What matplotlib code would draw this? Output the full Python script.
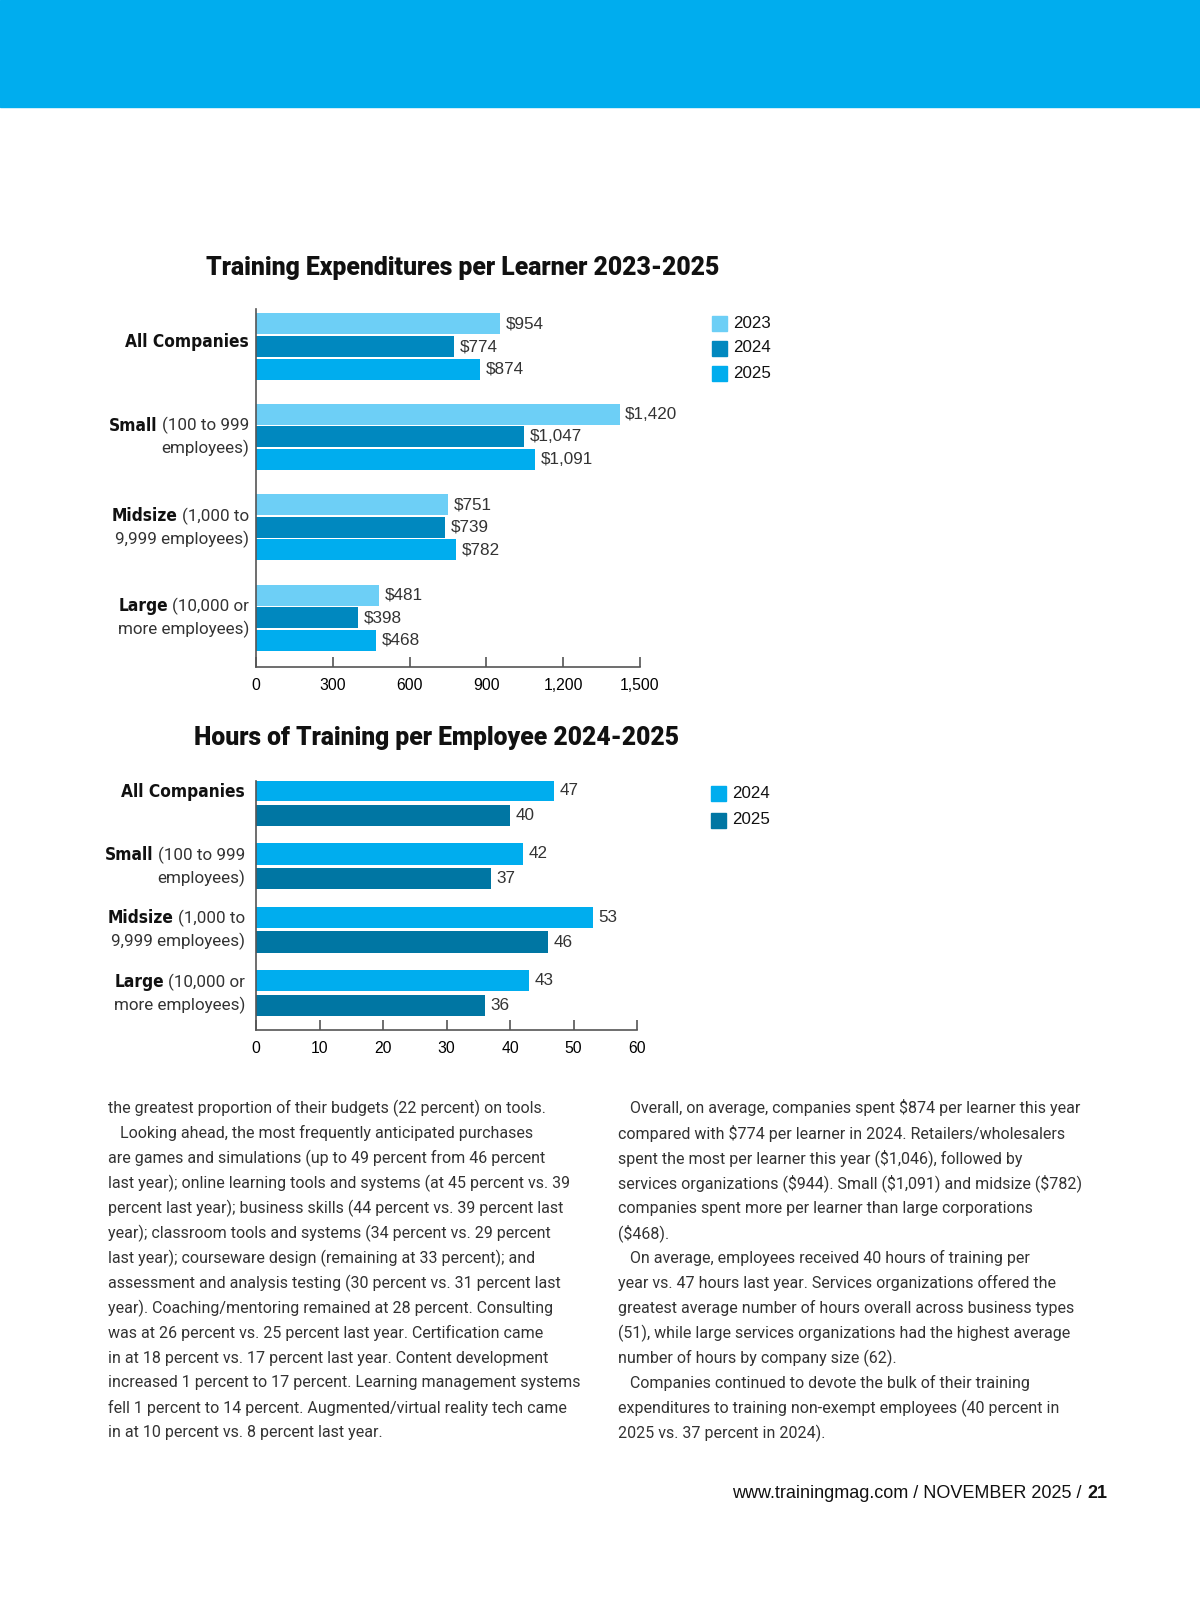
import matplotlib
matplotlib.use('Agg')
import matplotlib.pyplot as plt
from matplotlib import font_manager
from matplotlib.patches import Rectangle
from matplotlib.offsetbox import TextArea, HPacker, VPacker, AnnotationBbox

# --- data -------------------------------------------------------------
groups = ['All Companies', 'Small', 'Midsize', 'Large']
group_rest = ['', '(100 to 999', '(1,000 to', '(10,000 or']
group_line2 = ['', 'employees)', '9,999 employees)', 'more employees)']

exp_years = ['2023', '2024', '2025']
exp_2023 = [954, 1420, 751, 481]
exp_2024 = [774, 1047, 739, 398]
exp_2025 = [874, 1091, 782, 468]
exp_ticks = [0, 300, 600, 900, 1200, 1500]

hrs_years = ['2024', '2025']
hrs_2024 = [47, 42, 53, 43]
hrs_2025 = [40, 37, 46, 36]
hrs_ticks = [0, 10, 20, 30, 40, 50, 60]

left_col = [
    "the greatest proportion of their budgets (22 percent) on tools.",
    "   Looking ahead, the most frequently anticipated purchases",
    "are games and simulations (up to 49 percent from 46 percent",
    "last year); online learning tools and systems (at 45 percent vs. 39",
    "percent last year); business skills (44 percent vs. 39 percent last",
    "year); classroom tools and systems (34 percent vs. 29 percent",
    "last year); courseware design (remaining at 33 percent); and",
    "assessment and analysis testing (30 percent vs. 31 percent last",
    "year). Coaching/mentoring remained at 28 percent. Consulting",
    "was at 26 percent vs. 25 percent last year. Certification came",
    "in at 18 percent vs. 17 percent last year. Content development",
    "increased 1 percent to 17 percent. Learning management systems",
    "fell 1 percent to 14 percent. Augmented/virtual reality tech came",
    "in at 10 percent vs. 8 percent last year.",
]
right_col = [
    "   Overall, on average, companies spent $874 per learner this year",
    "compared with $774 per learner in 2024. Retailers/wholesalers",
    "spent the most per learner this year ($1,046), followed by",
    "services organizations ($944). Small ($1,091) and midsize ($782)",
    "companies spent more per learner than large corporations",
    "($468).",
    "   On average, employees received 40 hours of training per",
    "year vs. 47 hours last year. Services organizations offered the",
    "greatest average number of hours overall across business types",
    "(51), while large services organizations had the highest average",
    "number of hours by company size (62).",
    "   Companies continued to devote the bulk of their training",
    "expenditures to training non-exempt employees (40 percent in",
    "2025 vs. 37 percent in 2024).",
]

# --- look -------------------------------------------------------------
installed = {f.name for f in font_manager.fontManager.ttflist}
COND = 'Liberation Sans Narrow' if 'Liberation Sans Narrow' in installed else 'DejaVu Sans'
BODY = 'Roboto' if 'Roboto' in installed else 'Liberation Sans'
HEAD = 'Roboto' if 'Roboto' in installed else 'Liberation Sans'
SANS = 'Liberation Sans'

c23 = '#6DCFF6'
c24 = '#0088BF'
c25 = '#00ADEE'
h24 = '#00ADEE'
h25 = '#0076A3'
grey = '#555555'
txt = '#333333'

W, H = 1200, 1613
fig = plt.figure(figsize=(12, 16.13), dpi=100)
fig.patch.set_facecolor('white')
r = fig.canvas.get_renderer()


def fy(y):
    return 1 - y / H


def size_for(s, width, **kw):
    t = fig.text(0, 0, s, fontsize=10, parse_math=False, **kw)
    w = t.get_window_extent(r).width
    t.remove()
    return 10 * width / w


# banner
fig.patches.append(Rectangle((0, fy(107)), 1, 107 / H, transform=fig.transFigure,
                             color='#00ADEE', zorder=0))

# reference type is tightly tracked, so sizes are bumped a little past width fit
cat_bold = size_for('All Companies', 107, family=COND, weight='bold', stretch='condensed') * 1.15
cat_reg = size_for('9,999 employees)', 128, family=BODY) * 1.05
val_fs = size_for('$1,420', 43, family=SANS) * 1.22
tick_fs = size_for('1,500', 35, family=SANS) * 1.12
leg_fs = size_for('2023', 37, family=SANS) * 1.03


def cat_label(ax, y, bold, rest, second, off):
    parts = [TextArea(bold, textprops=dict(family=COND, weight='bold', stretch='condensed',
                                           fontsize=cat_bold, color='#111111'))]
    if rest:
        parts.append(TextArea(rest, textprops=dict(family=BODY, fontsize=cat_reg, color=txt)))
    rows = [HPacker(children=parts, sep=3, align='baseline', pad=0)]
    if second:
        rows.append(TextArea(second, textprops=dict(family=BODY, fontsize=cat_reg, color=txt)))
    box = VPacker(children=rows, sep=4, align='right', pad=0)
    ab = AnnotationBbox(box, (0, y), xycoords=('axes fraction', 'data'), xybox=(off, 0),
                        boxcoords='offset points', box_alignment=(1, 0.5), frameon=False, pad=0)
    ax.add_artist(ab)


def style_axis(ax, ticks):
    for s in ['top', 'right']:
        ax.spines[s].set_visible(False)
    for s in ['left', 'bottom']:
        ax.spines[s].set_color(grey)
        ax.spines[s].set_linewidth(1.2)
    ax.set_yticks([])
    ax.set_xticks(ticks)
    ax.set_xticklabels(['{:,}'.format(t) for t in ticks], family=SANS, fontsize=tick_fs)
    ax.tick_params(axis='x', direction='in', length=7, width=1.2, color=grey, pad=8)
    ax.set_xlim(ticks[0], ticks[-1])


def legend(x, y0, step, years, colors):
    for k, (yr, col) in enumerate(zip(years, colors)):
        y = y0 + k * step
        fig.patches.append(Rectangle((x / W, fy(y + 7.5)), 14.5 / W, 14.5 / H,
                                     transform=fig.transFigure, color=col))
        fig.text((x + 21) / W, fy(y), yr, family=SANS, fontsize=leg_fs, va='center', color='#111111')


# --- chart 1: expenditures -------------------------------------------
ax1 = fig.add_axes([256 / W, fy(667), 384 / W, (667 - 309) / H])
series1 = [exp_2023, exp_2024, exp_2025]
cols1 = [c23, c24, c25]
for j, (vals, col) in enumerate(zip(series1, cols1)):
    ys = [4 * i + j for i in range(len(groups))]
    bars = ax1.barh(ys, vals, height=0.93, color=col)
    ax1.bar_label(bars, labels=['${:,}'.format(v) for v in vals], padding=4,
                  family=SANS, fontsize=val_fs, color=txt)
ax1.set_ylim(15.18, -0.66)
style_axis(ax1, exp_ticks)
for i, g in enumerate(groups):
    cat_label(ax1, 4 * i + 1 if group_line2[i] else 4 * i + 0.8, g, group_rest[i], group_line2[i], -5)

t1 = fig.text(463 / W, fy(268), 'Training Expenditures per Learner 2023-2025', family=HEAD,
              weight='heavy', fontsize=10, ha='center', va='center', color='#111111')
t1.set_fontsize(size_for(t1.get_text(), 514, family=HEAD, weight='heavy'))
legend(712, 323, 25, exp_years, cols1)

# --- chart 2: hours ---------------------------------------------------
ax2 = fig.add_axes([256 / W, fy(1030), 381 / W, (1030 - 781) / H])
step = 2.57
series2 = [hrs_2024, hrs_2025]
cols2 = [h24, h25]
for j, (vals, col) in enumerate(zip(series2, cols2)):
    ys = [step * i + j for i in range(len(groups))]
    bars = ax2.barh(ys, vals, height=0.86, color=col)
    ax2.bar_label(bars, labels=[str(v) for v in vals], padding=4,
                  family=SANS, fontsize=val_fs, color=txt)
ax2.set_ylim(9.70, -0.385)
style_axis(ax2, hrs_ticks)
for i, g in enumerate(groups):
    cat_label(ax2, step * i + (0.5 if group_line2[i] else 0.05), g, group_rest[i], group_line2[i], -8)

t2 = fig.text(437 / W, fy(738), 'Hours of Training per Employee 2024-2025', family=HEAD,
              weight='heavy', fontsize=10, ha='center', va='center', color='#111111')
t2.set_fontsize(size_for(t2.get_text(), 484, family=HEAD, weight='heavy'))
legend(711, 793, 27, hrs_years, cols2)

# --- body text --------------------------------------------------------
body_fs = size_for(left_col[11], 473, family=BODY)
for col_x, lines in [(108, left_col), (618, right_col)]:
    for k, line in enumerate(lines):
        fig.text(col_x / W, fy(1108 + 25 * k), line, family=BODY, fontsize=body_fs,
                 va='center', color=txt, parse_math=False)

# --- footer -----------------------------------------------------------
foot_fs = size_for('www.trainingmag.com / NOVEMBER 2025 / 21', 374, family=SANS)
foot = HPacker(children=[
    TextArea('www.trainingmag.com / NOVEMBER 2025 / ', textprops=dict(family=SANS, fontsize=foot_fs, color='#111111')),
    TextArea('21', textprops=dict(family=SANS, weight='bold', fontsize=foot_fs, color='#111111')),
], sep=0, align='baseline', pad=0)
fig.add_artist(AnnotationBbox(foot, (1107 / W, fy(1494)), xycoords='figure fraction',
                              box_alignment=(1, 0.5), frameon=False, pad=0))

fig.savefig('out.png', dpi=100)
